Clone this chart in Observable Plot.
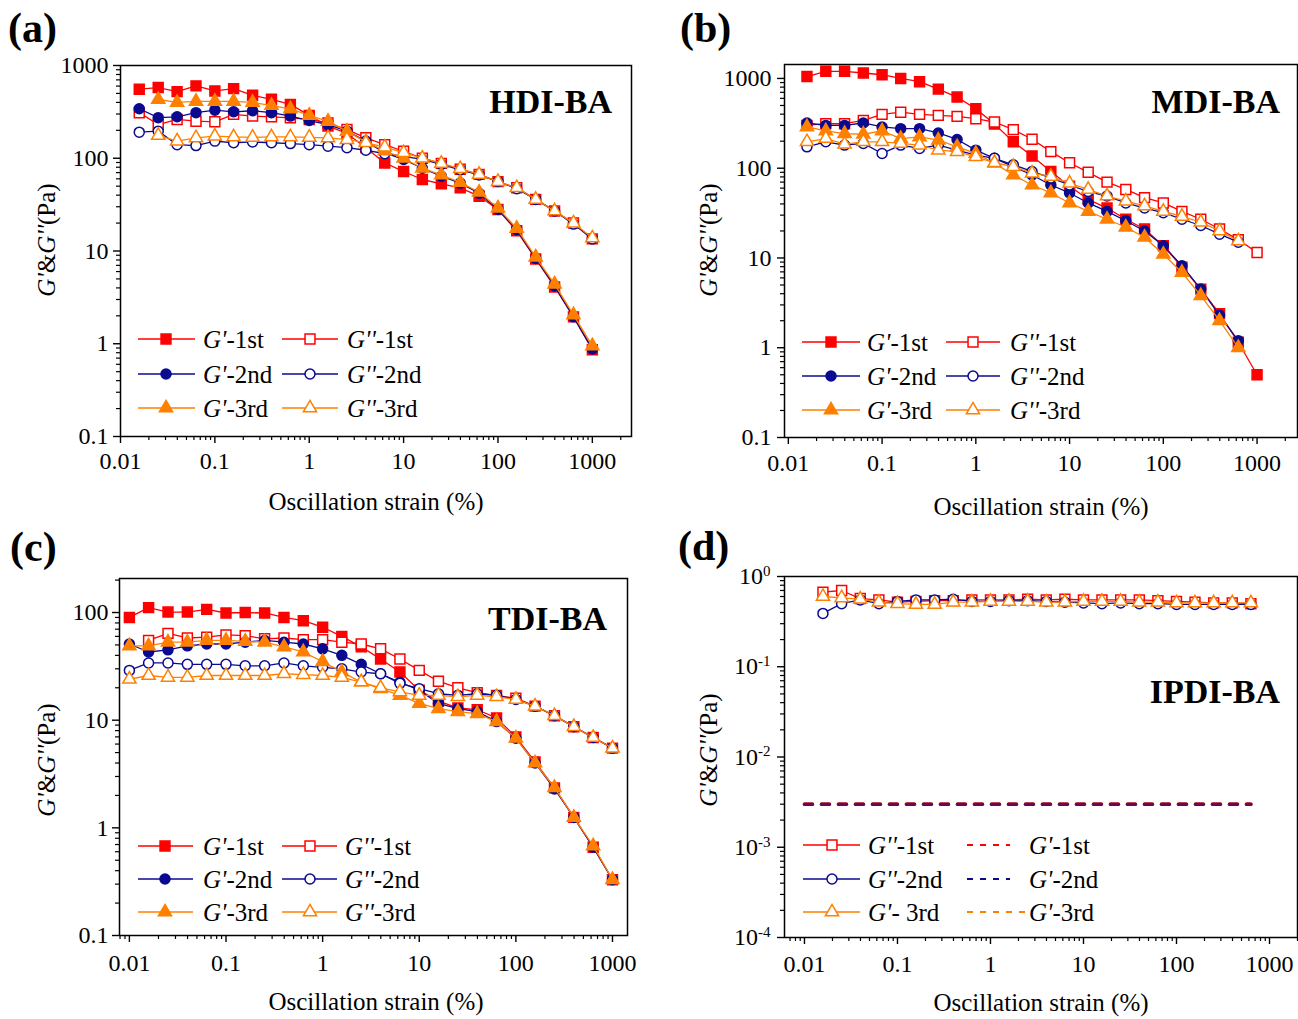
<!DOCTYPE html>
<html><head><meta charset="utf-8">
<script src="https://cdn.jsdelivr.net/npm/d3@7"></script>
<script src="https://cdn.jsdelivr.net/npm/@observablehq/plot@0.6"></script>
<style>
html,body{margin:0;padding:0;background:#fff;}
#fig{position:relative;width:1298px;height:1019px;background:#fff;overflow:hidden;}
#fig svg{position:absolute;}
</style></head><body><div id="fig"></div>
<script>
// ---------------- data ----------------
const strainAB = [0.0158, 0.0251, 0.0398, 0.0631, 0.1, 0.158, 0.251, 0.398, 0.631, 1, 1.58, 2.51, 3.98, 6.31, 10, 15.8, 25.1, 39.8, 63.1, 100, 158, 251, 398, 631, 1000];
const strainC = [0.01, 0.0158, 0.0251, 0.0398, 0.0631, 0.1, 0.158, 0.251, 0.398, 0.631, 1, 1.58, 2.51, 3.98, 6.31, 10, 15.8, 25.1, 39.8, 63.1, 100, 158, 251, 398, 631, 1000];
const strainD = [0.0158, 0.0251, 0.0398, 0.0631, 0.1, 0.158, 0.251, 0.398, 0.631, 1, 1.58, 2.51, 3.98, 6.31, 10, 15.8, 25.1, 39.8, 63.1, 100, 158, 251, 398, 631];
const strainDdash = [0.01, 0.0158, 0.0251, 0.0398, 0.0631, 0.1, 0.158, 0.251, 0.398, 0.631, 1, 1.58, 2.51, 3.98, 6.31, 10, 15.8, 25.1, 39.8, 63.1, 100, 158, 251, 398, 631];

// (a) HDI-BA
const hdiGp1 = [555, 578, 523, 603, 532, 563, 477, 432, 381, 290, 222, 185, 130, 89, 72, 59, 53, 48, 39, 28, 16.5, 8.2, 4.1, 1.95, 0.86];
const hdiGpp1 = [310, 231, 262, 251, 247, 297, 285, 280, 273, 262, 240, 204, 166, 140, 119, 100, 88, 76, 67, 56, 48, 36, 27, 20, 13.5];
const hdiGp2 = [342, 274, 280, 310, 330, 317, 325, 310, 285, 255, 230, 196, 153, 114, 97, 78, 64, 54, 42, 28, 17, 8.3, 4.2, 1.95, 0.88];
const hdiGpp2 = [191, 196, 140, 137, 153, 147, 150, 147, 144, 140, 135, 130, 122, 112, 105, 97, 86, 75, 66, 56, 47, 36, 27, 19.5, 13.5];
const hdiGp3 = [null, 430, 400, 410, 410, 410, 400, 370, 340, 290, 250, 195, 150, 120, 100, 78, 66, 55, 43, 29, 17.5, 8.6, 4.4, 2.05, 0.95];
const hdiGpp3 = [null, 176, 153, 166, 173, 170, 168, 170, 170, 168, 166, 159, 147, 132, 115, 100, 88, 77, 67, 56, 48, 36, 27, 20, 13.8];

// (b) MDI-BA
const mdiGp1 = [1050, 1200, 1200, 1150, 1100, 1000, 920, 760, 620, 460, 310, 197, 137, 92, 63, 45, 36, 27, 21, 13.7, 7.9, 4.5, 2.4, 1.15, 0.5];
const mdiGpp1 = [300, 313, 313, 341, 398, 421, 398, 388, 378, 356, 327, 269, 210, 153, 115, 90, 70, 58, 47, 41, 33, 27, 21, 16, 11.5];
const mdiGp2 = [319, 300, 300, 319, 288, 276, 276, 247, 209, 159, 129, 104, 84, 65, 53, 41, 33, 26, 20, 13.7, 8.2, 4.5, 2.3, 1.2, null];
const mdiGpp2 = [173, 197, 181, 189, 146, 181, 166, 181, 159, 140, 129, 109, 92, 78, 65, 55, 49, 41, 36, 32, 27, 23, 18.4, 15, null];
const mdiGp3 = [288, 260, 243, 239, 260, 214, 223, 205, 173, 146, 114, 84, 65, 53, 41, 33, 27, 22, 17, 11, 6.9, 3.8, 2.0, 1.0, null];
const mdiGpp3 = [197, 214, 185, 197, 197, 189, 181, 159, 153, 134, 115, 104, 88, 81, 68, 58, 49, 43, 38, 33, 29, 25, 20, 15.5, null];

// (c) TDI-BA
const tdiGp1 = [90, 111, 101, 101, 107, 99, 100, 99, 90, 84, 73, 60, 48, 37, 28, 19, 15, 13, 12.5, 10.5, 7.0, 4.1, 2.35, 1.25, 0.66, 0.33];
const tdiGpp1 = [null, 55, 64, 58, 59, 62, 61, 57, 58, 56, 56, 53, 51, 46, 37, 29, 23, 20, 18, 17, 16, 13.5, 11, 8.7, 6.9, 5.5];
const tdiGp2 = [51, 43, 45, 49, 51, 51, 53, 55, 53, 51, 46, 40, 33, 27, 22.5, 19, 14.3, 12.8, 12, 9.7, 6.8, 4.0, 2.3, 1.25, 0.66, 0.33];
const tdiGpp2 = [29, 34, 34, 33, 33, 33, 32, 32, 34, 32, 31, 30, 28, 27, 22, 19.6, 17.6, 17, 17.6, 17, 15.6, 13.5, 11, 8.7, 6.9, 5.5];
const tdiGp3 = [49, 49, 53, 53, 55, 55, 54, 53, 48, 43, 35, 28, 22.6, 19.6, 17, 14.3, 12.8, 12, 11.5, 9.7, 6.8, 4.0, 2.36, 1.25, 0.68, 0.33];
const tdiGpp3 = [24, 26, 25, 25, 26, 26, 26, 26, 27, 26.5, 26, 25, 22.6, 20, 18.3, 17, 17, 16.5, 17, 16.5, 15.6, 13.5, 11, 8.7, 6.9, 5.5];

// (d) IPDI-BA
const ipdiGpp1 = [0.67, 0.70, 0.57, 0.55, 0.52, 0.53, 0.54, 0.54, 0.55, 0.55, 0.55, 0.56, 0.55, 0.56, 0.55, 0.55, 0.55, 0.55, 0.54, 0.53, 0.52, 0.51, 0.51, 0.50];
const ipdiGpp2 = [0.39, 0.50, 0.55, 0.50, 0.53, 0.55, 0.55, 0.56, 0.53, 0.53, 0.54, 0.54, 0.53, 0.52, 0.51, 0.50, 0.51, 0.50, 0.50, 0.49, 0.49, 0.49, 0.49, 0.49];
const ipdiGpp3 = [0.60, 0.58, 0.56, 0.52, 0.50, 0.49, 0.49, 0.52, 0.52, 0.53, 0.53, 0.53, 0.52, 0.52, 0.53, 0.53, 0.53, 0.52, 0.52, 0.51, 0.51, 0.51, 0.51, 0.51];
const ipdiGp1 = [0.003, 0.003, 0.003, 0.003, 0.003, 0.003, 0.003, 0.003, 0.003, 0.003, 0.003, 0.003, 0.003, 0.003, 0.003, 0.003, 0.003, 0.003, 0.003, 0.003, 0.003, 0.003, 0.003, 0.003, 0.003];
const ipdiGp2 = [0.003, 0.003, 0.003, 0.003, 0.003, 0.003, 0.003, 0.003, 0.003, 0.003, 0.003, 0.003, 0.003, 0.003, 0.003, 0.003, 0.003, 0.003, 0.003, 0.003, 0.003, 0.003, 0.003, 0.003, 0.003];
const ipdiGp3 = [0.003, 0.003, 0.003, 0.003, 0.003, 0.003, 0.003, 0.003, 0.003, 0.003, 0.003, 0.003, 0.003, 0.003, 0.003, 0.003, 0.003, 0.003, 0.003, 0.003, 0.003, 0.003, 0.003, 0.003, 0.003];

// tick labels
const xTickValues = [0.01, 0.1, 1, 10, 100, 1000];
const yTicksAB = [0.1, 1, 10, 100, 1000];
const yTicksC = [0.1, 1, 10, 100];
const yTicksD = [0.0001, 0.001, 0.01, 0.1, 1];

// texts
const panelLetters = ["(a)", "(b)", "(c)", "(d)"];
const sampleNames = ["HDI-BA", "MDI-BA", "TDI-BA", "IPDI-BA"];
const xTitle = "Oscillation strain (%)";

// ---------------- styling ----------------
const RED = "#ff0000", NAVY = "#0a0a90", ORANGE = "#ff8000";
const FONT = '"Liberation Serif", "Times New Roman", serif';
const R = {square: 5.6, circle: 5, triangle: 4.9};

function rows(xs, ys) {
  return xs.map((x, i) => ({x, y: ys[i]})).filter(d => d.y != null);
}
const isPow10 = t => Math.abs(Math.log10(t) - Math.round(Math.log10(t))) < 1e-9;

const stdSeries = (g1, g2, g3, h1, h2, h3) => [
  {ys: g1, color: RED, symbol: "square", open: false},
  {ys: h1, color: RED, symbol: "square", open: true},
  {ys: g2, color: NAVY, symbol: "circle", open: false},
  {ys: h2, color: NAVY, symbol: "circle", open: true},
  {ys: g3, color: ORANGE, symbol: "triangle", open: false},
  {ys: h3, color: ORANGE, symbol: "triangle", open: true}
];

const stdLegend = (rowsY, c1, c2) => [
  {x1: c1[0], x2: c1[1], mx: c1[2], tx: c1[3], y: rowsY[0], color: RED, symbol: "square", open: false, parts: [["G'", 1], ["-1st", 0]]},
  {x1: c1[0], x2: c1[1], mx: c1[2], tx: c1[3], y: rowsY[1], color: NAVY, symbol: "circle", open: false, parts: [["G'", 1], ["-2nd", 0]]},
  {x1: c1[0], x2: c1[1], mx: c1[2], tx: c1[3], y: rowsY[2], color: ORANGE, symbol: "triangle", open: false, parts: [["G'", 1], ["-3rd", 0]]},
  {x1: c2[0], x2: c2[1], mx: c2[2], tx: c2[3], y: rowsY[0], color: RED, symbol: "square", open: true, parts: [["G''", 1], ["-1st", 0]]},
  {x1: c2[0], x2: c2[1], mx: c2[2], tx: c2[3], y: rowsY[1], color: NAVY, symbol: "circle", open: true, parts: [["G''", 1], ["-2nd", 0]]},
  {x1: c2[0], x2: c2[1], mx: c2[2], tx: c2[3], y: rowsY[2], color: ORANGE, symbol: "triangle", open: true, parts: [["G''", 1], ["-3rd", 0]]}
];

const panels = [
  {off: [0, 0], w: 650, h: 520, m: {l: 120, r: 19, t: 65, b: 84}, xDomain: [0.01, 2600], yDomain: [0.1, 1000],
   yTicks: yTicksAB, xPad: 8, yPad: 5, xs: strainAB, series: stdSeries(hdiGp1, hdiGp2, hdiGp3, hdiGpp1, hdiGpp2, hdiGpp3),
   letter: [8, 42], name: [612, 113], ylab: [46, 240], xlab: [376, 510],
   legend: stdLegend([339, 374, 408], [138, 195, 166, 203], [282, 338, 310, 347])},
  {off: [650, 0], w: 648, h: 520, m: {l: 134, r: 1, t: 64, b: 83}, xDomain: [0.0091, 2700], yDomain: [0.1, 1430],
   yTicks: yTicksAB, xPad: 9, yPad: 6, xs: strainAB, series: stdSeries(mdiGp1, mdiGp2, mdiGp3, mdiGpp1, mdiGpp2, mdiGpp3),
   letter: [680, 42], name: [1280, 113], ylab: [708, 240], xlab: [1041, 515],
   legend: stdLegend([342, 376, 410], [802, 860, 831, 867], [946, 1000, 973, 1010])},
  {off: [0, 520], w: 650, h: 499, m: {l: 119, r: 23, t: 58, b: 84}, xDomain: [0.0079, 1430], yDomain: [0.1, 207],
   yTicks: yTicksC, xPad: 11, yPad: 4, xs: strainC, series: stdSeries(tdiGp1, tdiGp2, tdiGp3, tdiGpp1, tdiGpp2, tdiGpp3),
   letter: [10, 561], name: [607, 630], ylab: [46, 760], xlab: [376, 1010],
   legend: stdLegend([846, 879, 912], [138, 193, 165, 203], [282, 337, 310, 345])},
  {off: [650, 520], w: 648, h: 499, m: {l: 134, r: 1, t: 56, b: 82}, xDomain: [0.0061, 2000], yDomain: [0.0001, 1],
   yTicks: yTicksD, xPad: 10, yPad: 7, sup: true, xs: strainD,
   series: [
     {ys: ipdiGp3, xs: strainDdash, color: ORANGE, dash: true},
     {ys: ipdiGp1, xs: strainDdash, color: RED, dash: true},
     {ys: ipdiGp2, xs: strainDdash, color: NAVY, dash: true, opacity: 0.6},
     {ys: ipdiGpp1, color: RED, symbol: "square", open: true},
     {ys: ipdiGpp2, color: NAVY, symbol: "circle", open: true},
     {ys: ipdiGpp3, color: ORANGE, symbol: "triangle", open: true}
   ],
   letter: [678, 560], name: [1280, 703], ylab: [708, 750], xlab: [1041, 1011],
   legend: [
     {x1: 803, x2: 860, mx: 832, tx: 868, y: 845, color: RED, symbol: "square", open: true, parts: [["G''", 1], ["-1st", 0]]},
     {x1: 803, x2: 860, mx: 832, tx: 868, y: 879, color: NAVY, symbol: "circle", open: true, parts: [["G''", 1], ["-2nd", 0]]},
     {x1: 803, x2: 860, mx: 832, tx: 868, y: 912, color: ORANGE, symbol: "triangle", open: true, parts: [["G'", 1], ["- 3rd", 0]]},
     {x1: 967, x2: 1010, tx: 1029, y: 845, color: RED, dash: true, parts: [["G'", 1], ["-1st", 0]]},
     {x1: 967, x2: 1010, tx: 1029, y: 879, color: NAVY, dash: true, parts: [["G'", 1], ["-2nd", 0]]},
     {x1: 967, x2: 1026, tx: 1029, y: 912, color: ORANGE, dash: true, parts: [["G'", 1], ["-3rd", 0]]}
   ]}
];

const fig = document.getElementById("fig");

function richText(g, x, y, parts, attrs) {
  const t = g.append("text").attr("x", x).attr("y", y);
  for (const [k, v] of Object.entries(attrs)) t.attr(k, v);
  for (const [s, it] of parts) t.append("tspan").attr("font-style", it ? "italic" : "normal").text(s);
  return t;
}

panels.forEach((p, k) => {
  const minorX = d3.scaleLog().domain(p.xDomain).ticks().filter(t => !isPow10(t));
  const minorY = d3.scaleLog().domain(p.yDomain).ticks().filter(t => !isPow10(t));
  const marks = [
    Plot.axisX({ticks: minorX, tickSize: 4, tickFormat: () => "", label: null, strokeWidth: 1.2}),
    Plot.axisY({ticks: minorY, tickSize: 4, tickFormat: () => "", label: null, strokeWidth: 1.2}),
    Plot.axisX({ticks: xTickValues, tickSize: 7, tickPadding: p.xPad, tickFormat: d => String(d), label: null, strokeWidth: 1.4}),
    Plot.axisY({ticks: p.yTicks, tickSize: 7, tickPadding: p.yPad,
      tickFormat: p.sup ? (d => "10^" + Math.round(Math.log10(d))) : (d => String(d)), label: null, strokeWidth: 1.4})
  ];
  for (const s of p.series) {
    const data = rows(s.xs || p.xs, s.ys);
    if (s.dash) {
      marks.push(Plot.line(data, {x: "x", y: "y", stroke: s.color, strokeWidth: 3.5, strokeDasharray: "8,9", strokeOpacity: s.opacity || 1}));
    } else {
      marks.push(Plot.line(data, {x: "x", y: "y", stroke: s.color, strokeWidth: 1.3}));
      marks.push(Plot.dot(data, {x: "x", y: "y", symbol: s.symbol, r: R[s.symbol],
        fill: s.open ? "white" : s.color, stroke: s.color, strokeWidth: 1.5}));
    }
  }
  marks.push(Plot.frame({stroke: "black", strokeWidth: 1.5}));

  const svg = Plot.plot({
    width: p.w, height: p.h,
    marginLeft: p.m.l, marginRight: p.m.r, marginTop: p.m.t, marginBottom: p.m.b,
    x: {type: "log", domain: p.xDomain},
    y: {type: "log", domain: p.yDomain},
    style: {fontFamily: FONT, fontSize: "24px", color: "black", background: "transparent", overflow: "visible"},
    marks
  });
  svg.style.left = p.off[0] + "px";
  svg.style.top = p.off[1] + "px";
  svg.style.maxWidth = "none";
  fig.appendChild(svg);

  const root = d3.select(svg);
  if (p.sup) {
    root.selectAll('g[aria-label="y-axis tick label"] text').each(function () {
      const txt = this.textContent;
      if (!txt.includes("^")) return;
      const [base, ex] = txt.split("^");
      const sel = d3.select(this);
      sel.text(null);
      sel.append("tspan").text(base);
      sel.append("tspan").attr("dy", "-0.55em").attr("font-size", "15px").text(ex);
    });
  }

  // overlay in global figure coordinates
  const g = root.append("g").attr("transform", `translate(${-p.off[0]},${-p.off[1]})`)
    .attr("font-family", FONT).attr("fill", "black").attr("text-anchor", "start");
  g.append("text").attr("x", p.letter[0]).attr("y", p.letter[1]).attr("font-size", 42).attr("font-weight", "bold").text(panelLetters[k]);
  g.append("text").attr("x", p.name[0]).attr("y", p.name[1]).attr("font-size", 34).attr("font-weight", "bold")
    .attr("text-anchor", "end").text(sampleNames[k]);
  richText(g, 0, 0, [["G'", 1], ["&", 0], ["G''", 1], ["(Pa)", 0]],
    {"font-size": 25, "text-anchor": "middle", "dominant-baseline": "central",
     transform: `translate(${p.ylab[0]},${p.ylab[1]}) rotate(-90)`});
  g.append("text").attr("x", p.xlab[0]).attr("y", p.xlab[1]).attr("font-size", 25).attr("text-anchor", "middle").text(xTitle);

  for (const it of p.legend) {
    if (it.dash) {
      g.append("line").attr("x1", it.x1).attr("x2", it.x2).attr("y1", it.y).attr("y2", it.y)
        .attr("stroke", it.color).attr("stroke-width", 2).attr("stroke-dasharray", "6,7");
    } else {
      g.append("line").attr("x1", it.x1).attr("x2", it.x2).attr("y1", it.y).attr("y2", it.y)
        .attr("stroke", it.color).attr("stroke-width", 1.5);
      const type = it.symbol === "square" ? d3.symbolSquare : it.symbol === "circle" ? d3.symbolCircle : d3.symbolTriangle;
      g.append("path").attr("d", d3.symbol(type, Math.PI * R[it.symbol] ** 2)())
        .attr("transform", `translate(${it.mx},${it.y})`)
        .attr("fill", it.open ? "white" : it.color).attr("stroke", it.color).attr("stroke-width", 1.5);
    }
    richText(g, it.tx, it.y, it.parts, {"font-size": 25, "dominant-baseline": "central", "text-anchor": "start"});
  }
});
</script>
</body></html>
